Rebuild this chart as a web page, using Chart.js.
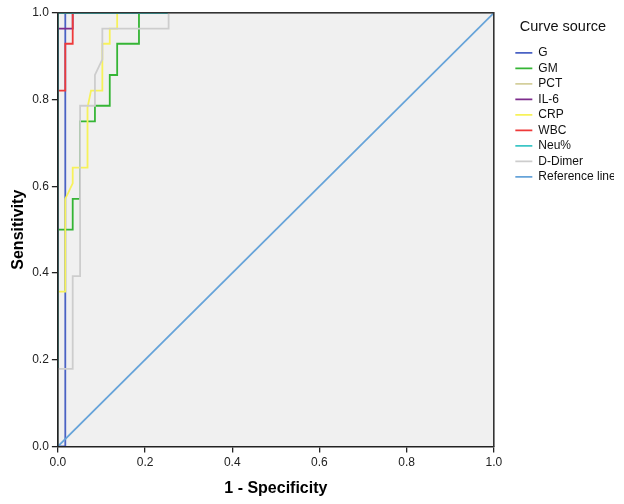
<!DOCTYPE html>
<html>
<head>
<meta charset="utf-8">
<script src="https://cdn.jsdelivr.net/npm/chart.js@4/dist/chart.umd.min.js"></script>
<style>
  body { margin: 0; background: #fff; }
</style>
</head>
<body>
<canvas id="roc-chart" width="624" height="504"></canvas>
<script>
// ROC curves, 1 - specificity (x) vs sensitivity (y)
const labels = ["G", "GM", "PCT", "IL-6", "CRP", "WBC", "Neu%", "D-Dimer", "Reference line"];
const colors = ["#4a62c4", "#35b535", "#d4cf9c", "#7d2c8c", "#f7f25a", "#ee3a3a", "#3cc6c6", "#cdcdcd", "#66a3d9"];

const gX = [0, 0.017, 0.017, 1];
const gY = [0, 0, 1, 1];

const gmX = [0, 0, 0.034, 0.034, 0.051, 0.051, 0.085, 0.085, 0.119, 0.119, 0.136, 0.136, 0.186, 0.186, 1];
const gmY = [0, 0.5, 0.5, 0.571, 0.571, 0.75, 0.75, 0.786, 0.786, 0.857, 0.857, 0.929, 0.929, 1, 1];

const pctX = [0, 0, 1];
const pctY = [0, 1, 1];

const il6X = [0, 0, 0.034, 0.034, 1];
const il6Y = [0, 0.964, 0.964, 1, 1];

const crpX = [0, 0, 0.017, 0.017, 0.034, 0.034, 0.068, 0.068, 0.076, 0.102, 0.102, 0.119, 0.119, 0.136, 0.136, 1];
const crpY = [0, 0.357, 0.357, 0.571, 0.607, 0.643, 0.643, 0.782, 0.821, 0.821, 0.929, 0.929, 0.964, 0.964, 1, 1];

const wbcX = [0, 0, 0.017, 0.017, 0.034, 0.034, 1];
const wbcY = [0, 0.821, 0.821, 0.929, 0.929, 1, 1];

const neuX = [0, 0, 1];
const neuY = [0, 1, 1];

const ddX = [0, 0, 0.034, 0.034, 0.051, 0.051, 0.085, 0.085, 0.102, 0.102, 0.254, 0.254, 1];
const ddY = [0, 0.179, 0.179, 0.393, 0.393, 0.786, 0.786, 0.857, 0.893, 0.964, 0.964, 1, 1];

const refX = [0, 1];
const refY = [0, 1];

const tickValues = [0, 0.2, 0.4, 0.6, 0.8, 1.0];

const seriesX = [gX, gmX, pctX, il6X, crpX, wbcX, neuX, ddX, refX];
const seriesY = [gY, gmY, pctY, il6Y, crpY, wbcY, neuY, ddY, refY];

function toPoints(xs, ys) {
  return xs.map((x, i) => ({ x: x, y: ys[i] }));
}

datasets = [];
for (i = 0; i < labels.length; i++) {
  datasets.push({
    label: labels[i],
    data: toPoints(seriesX[i], seriesY[i]),
    borderColor: colors[i],
    backgroundColor: colors[i],
    borderWidth: 1.8,
    showLine: true,
    pointRadius: 0,
    tension: 0,
    // later series drawn on top, like the original
    order: -i,
  });
}

const plotBackground = {
  id: "plotBackground",
  beforeDraw(chart) {
    const a = chart.chartArea;
    chart.ctx.save();
    chart.ctx.fillStyle = "#f0f0f0";
    chart.ctx.fillRect(a.left, a.top, a.right - a.left, a.bottom - a.top);
    chart.ctx.restore();
  },
};

const tickFont = { family: "'Liberation Sans', Arial, sans-serif", size: 12 };
const titleFont = { family: "'Liberation Sans', Arial, sans-serif", size: 16, weight: "bold" };

new Chart(document.getElementById("roc-chart"), {
  type: "scatter",
  data: { datasets: datasets },
  plugins: [plotBackground],
  options: {
    responsive: false,
    animation: false,
    layout: { padding: { top: 5, left: 1, right: 10, bottom: 2 } },
    plugins: {
      tooltip: { enabled: false },
      legend: {
        position: "right",
        align: "start",
        title: {
          display: true,
          text: "Curve source",
          color: "#111",
          font: { family: "'Liberation Sans', Arial, sans-serif", size: 14.5 },
          padding: { top: 15, bottom: 6 },
        },
        labels: {
          usePointStyle: true,
          pointStyle: "line",
          pointStyleWidth: 17,
          padding: 3.5,
          color: "#111",
          font: tickFont,
          sort: (a, b) => a.datasetIndex - b.datasetIndex,
        },
      },
    },
    scales: {
      x: {
        type: "linear",
        position: "bottom",
        min: 0,
        max: 1,
        afterBuildTicks: (scale) => {
          scale.ticks = tickValues.map((v) => ({ value: v }));
        },
        ticks: {
          color: "#222",
          font: tickFont,
          padding: 3,
          callback: (v) => Number(v).toFixed(1),
        },
        grid: { display: true, drawOnChartArea: false, tickLength: 6, color: "#222", lineWidth: 1.3 },
        border: { display: true, color: "#222", width: 1.6, z: 1 },
        title: { display: true, text: "1 - Specificity", color: "#000", font: titleFont, padding: { top: 6, bottom: 4 } },
      },
      y: {
        type: "linear",
        position: "left",
        min: 0,
        max: 1,
        afterBuildTicks: (scale) => {
          scale.ticks = tickValues.map((v) => ({ value: v }));
        },
        ticks: {
          color: "#222",
          font: tickFont,
          padding: 3,
          callback: (v) => Number(v).toFixed(1),
        },
        grid: { display: true, drawOnChartArea: false, tickLength: 6, color: "#222", lineWidth: 1.3 },
        border: { display: true, color: "#222", width: 1.6, z: 1 },
        title: { display: true, text: "Sensitivity", color: "#000", font: titleFont, padding: { top: 8, bottom: 1 } },
      },
      xTop: {
        type: "linear",
        position: "top",
        min: 0,
        max: 1,
        ticks: { display: false },
        grid: { display: false },
        border: { display: true, color: "#333", width: 1.6, z: 1 },
      },
      yRight: {
        type: "linear",
        position: "right",
        min: 0,
        max: 1,
        ticks: { display: false },
        grid: { display: false },
        border: { display: true, color: "#333", width: 1.6, z: 1 },
        afterFit: (scale) => {
          scale.width = 18;
        },
      },
    },
  },
});
</script>
</body>
</html>
